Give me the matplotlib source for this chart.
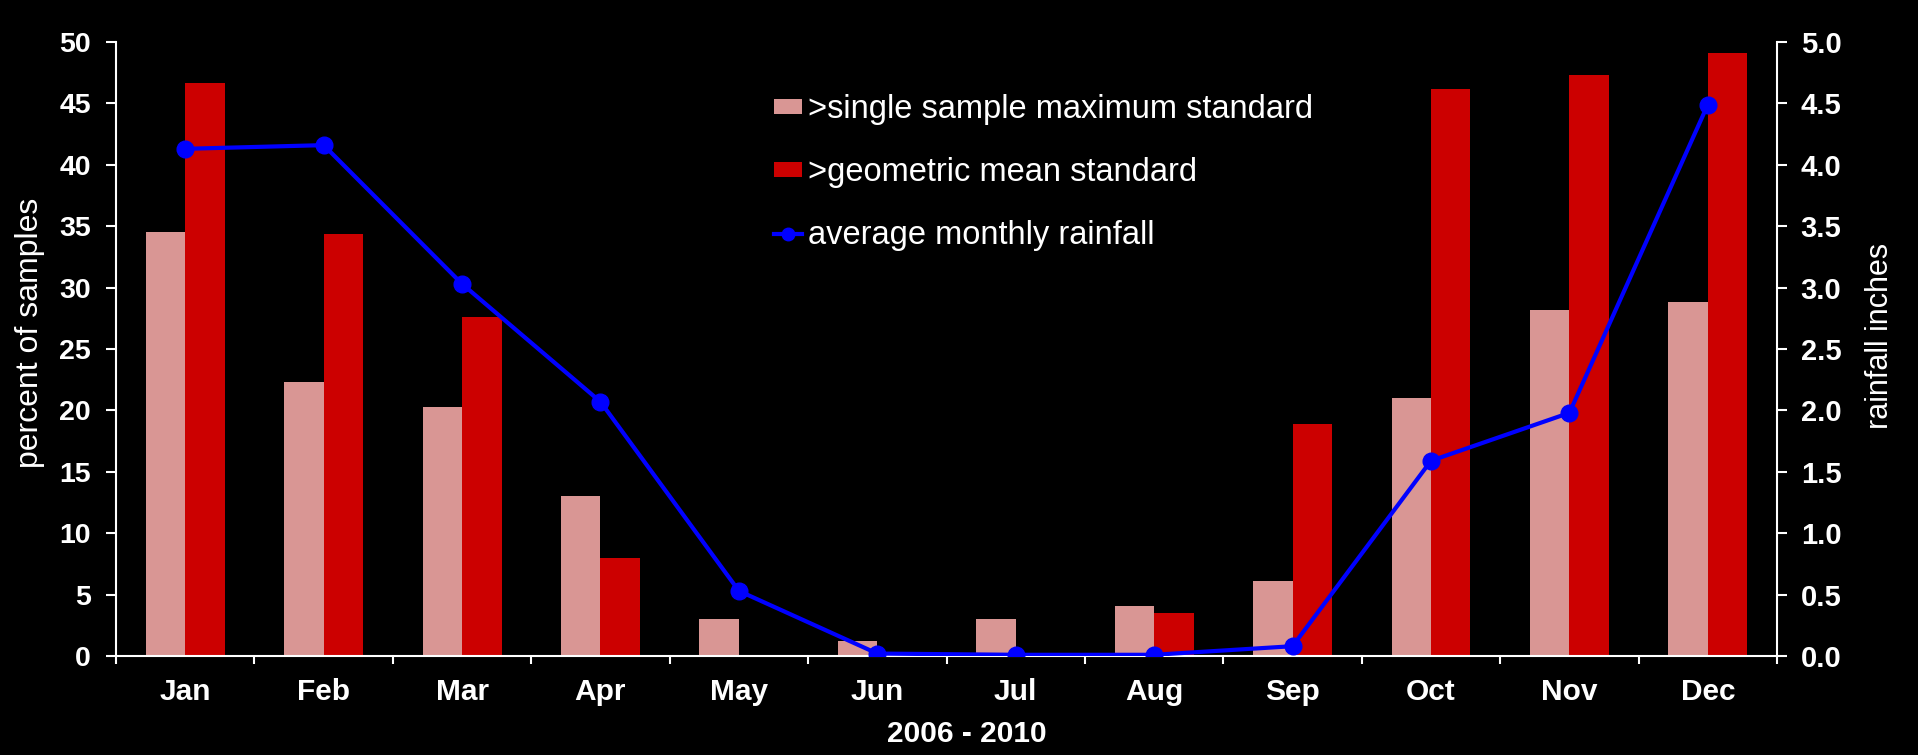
import matplotlib
matplotlib.use("Agg")
import matplotlib.pyplot as plt
import numpy as np
from matplotlib.ticker import MultipleLocator, FixedLocator

months = ["Jan", "Feb", "Mar", "Apr", "May", "Jun",
          "Jul", "Aug", "Sep", "Oct", "Nov", "Dec"]
single_max = [34.5, 22.3, 20.3, 13.0, 3.0, 1.2, 3.0, 4.1, 6.1, 21.0, 28.2, 28.8]
geo_mean = [46.7, 34.4, 27.6, 8.0, 0.0, 0.0, 0.0, 3.5, 18.9, 46.2, 47.3, 49.1]
rainfall = [4.13, 4.16, 3.03, 2.07, 0.53, 0.02, 0.01, 0.01, 0.08, 1.59, 1.98, 4.49]

PINK = "#d99694"
RED = "#cc0000"
BLUE = "#0000ff"
FG = "white"

plt.rcParams["font.family"] = ["Liberation Sans", "DejaVu Sans"]

fig = plt.figure(figsize=(19.18, 7.55), dpi=100, facecolor="black")
ax = fig.add_axes([0.0605, 0.1311, 0.866, 0.8133], facecolor="black")

x = np.arange(len(months))
w = 0.285
ax.bar(x - w / 2, single_max, w, color=PINK, label=">single sample maximum standard", zorder=2)
ax.bar(x + w / 2, geo_mean, w, color=RED, label=">geometric mean standard", zorder=2)

ax.set_xlim(-0.5, 11.5)
ax.set_ylim(0, 50)
ax.yaxis.set_major_locator(MultipleLocator(5))
ax.set_xticks(x)
ax.set_xticklabels(months)
ax.xaxis.set_minor_locator(FixedLocator(np.arange(-0.5, 12, 1)))
ax.tick_params(axis="x", which="major", length=0, pad=16, colors=FG, labelsize=21.5)
ax.tick_params(axis="x", which="minor", length=6, width=1.5, color=FG, direction="out")
ax.tick_params(axis="y", length=7, width=1.5, colors=FG, labelsize=20.5, pad=11)
for lbl in ax.get_xticklabels() + ax.get_yticklabels():
    lbl.set_fontweight("bold")

for side in ("top", "right"):
    ax.spines[side].set_visible(False)
for side in ("left", "bottom"):
    ax.spines[side].set_color(FG)
    ax.spines[side].set_linewidth(1.5)

ax.set_ylabel("percent of samples", color=FG, fontsize=23)
ax.yaxis.set_label_coords(-0.0425, 0.526)
ax.set_xlabel("2006 - 2010", color=FG, fontsize=21.5, fontweight="bold")
ax.xaxis.set_label_coords(0.512, -0.105)

ax2 = ax.twinx()
ax2.plot(x, rainfall, color=BLUE, lw=3, marker="o", ms=12,
         label="average monthly rainfall", zorder=3)
ax2.set_ylim(0, 5)
ax2.yaxis.set_major_locator(MultipleLocator(0.5))
ax2.yaxis.set_major_formatter(plt.FormatStrFormatter("%.1f"))
ax2.tick_params(axis="y", length=7, width=1.5, colors=FG, labelsize=21, pad=10)
for lbl in ax2.get_yticklabels():
    lbl.set_fontweight("bold")
for side in ("top", "left", "bottom"):
    ax2.spines[side].set_visible(False)
ax2.spines["right"].set_color(FG)
ax2.spines["right"].set_linewidth(1.5)
ax2.set_ylabel("rainfall inches", color=FG, fontsize=22)
ax2.yaxis.set_label_coords(1.053, 0.521)

h1, l1 = ax.get_legend_handles_labels()
h2, l2 = ax2.get_legend_handles_labels()
leg = ax2.legend(h1 + h2, l1 + l2, loc="upper left", bbox_to_anchor=(0.396, 0.915),
                 frameon=False, fontsize=23.5, labelspacing=0.98, handlelength=0.85,
                 handletextpad=0.2, handleheight=0.35, borderpad=0, borderaxespad=0,
                 markerscale=0.75)
for t in leg.get_texts():
    t.set_color(FG)

fig.savefig("out.png", dpi=100, facecolor="black")
